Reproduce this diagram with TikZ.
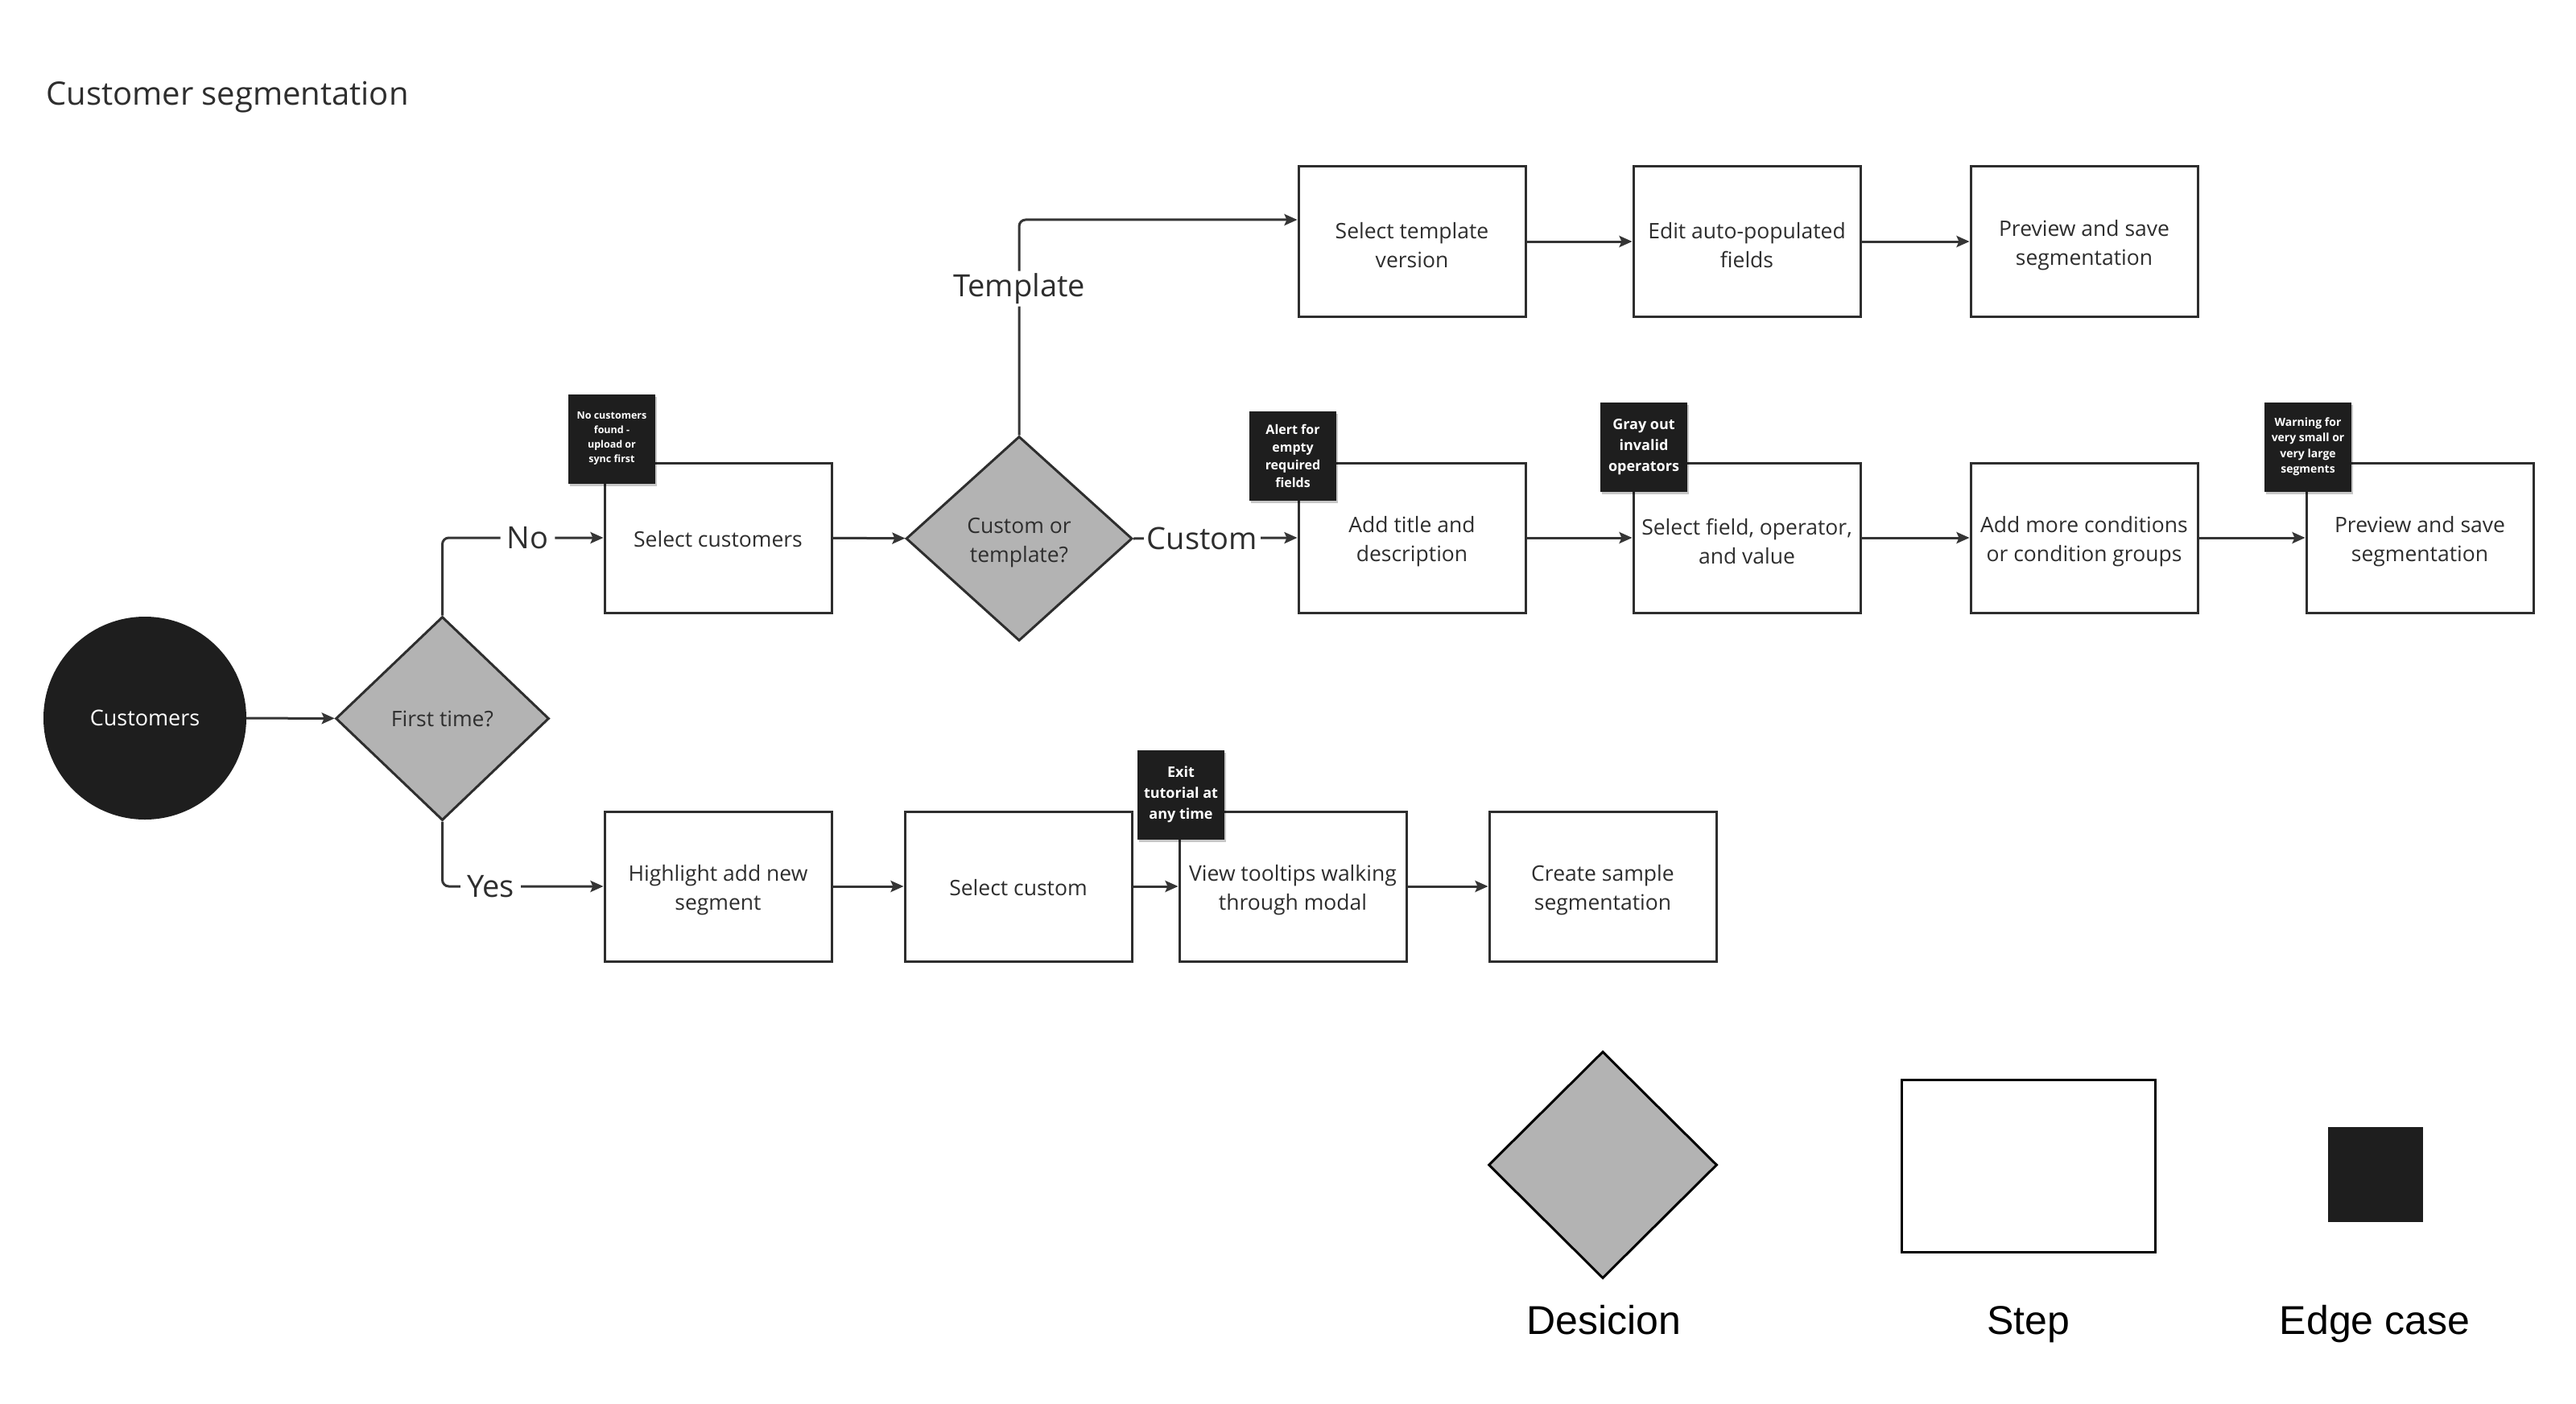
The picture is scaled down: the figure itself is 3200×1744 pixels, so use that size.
\documentclass[tikz,border=0pt]{standalone}
\usepackage{fontspec}
\setmainfont{Open Sans}
\newfontfamily\legendfont{Liberation Sans}
\usetikzlibrary{shapes.geometric,arrows.meta,shadows,calc}
\definecolor{ink}{HTML}{2E2E2E}
\definecolor{linec}{HTML}{353535}
\definecolor{dgray}{HTML}{B3B3B3}
\definecolor{sticky}{HTML}{1E1E1E}
\newcommand\tup{\rule{0pt}{29pt}}
\newcommand\oneup{\rule{0pt}{23.5pt}}
\begin{document}
\begin{tikzpicture}[x=1pt,y=-1pt,
  stepbox/.style={draw=ink, line width=3pt, fill=white, minimum width=282pt, minimum height=186pt,
    align=center, text=ink, font=\fontsize{26.5}{36.5}\selectfont, inner sep=0pt},
  decbox/.style={diamond, draw=ink, line width=3pt, fill=dgray, inner sep=0pt, align=center,
    text=ink, font=\fontsize{26.5}{36.5}\selectfont},
  note/.style={fill=sticky, text=white, align=center, minimum width=108pt, minimum height=111pt,
    inner sep=0pt, drop shadow={opacity=0.22, shadow xshift=2pt, shadow yshift=-3pt, fill=black}},
  conn/.style={draw=linec, line width=3pt, -{Stealth[length=16pt,width=14pt,inset=3pt]}},
  lab/.style={fill=white, text=ink, font=\fontsize{38}{46}\selectfont, inner xsep=8pt, inner ysep=3pt},
  leglab/.style={text=black, font=\legendfont\fontsize{50}{60}\selectfont, anchor=base},
]
\fill[white] (0,0) rectangle (3200,1744);
\useasboundingbox (0,0) rectangle (3200,1744);

% title
\node[anchor=base west, inner sep=0pt, text=ink, font=\fontsize{40}{48}\selectfont] (title) at (57,131) {Customer segmentation};

% start and decisions
\node[circle, fill=sticky, minimum size=252pt, inner sep=0pt, text=white, font=\fontsize{27}{33}\selectfont] (cust) at (180,892) {Customers};
\node[decbox, minimum width=265pt, minimum height=253pt] (ft) at (549.5,892.5) {First time?};
\node[decbox, minimum width=281pt, minimum height=254pt] (ct) at (1266,669) {\tup Custom or\\template?};

% step boxes
\node[stepbox] (sc) at (892,668) {\oneup Select customers};

\node[stepbox] (stv) at (1754,300) {\tup Select template\\version};
\node[stepbox] (eap) at (2170,300) {\tup Edit auto-populated\\fields};
\node[stepbox] (pst) at (2589,300) {\tup Preview and save\\segmentation};

\node[stepbox] (atd) at (1754,668) {\tup Add title and\\description};
\node[stepbox] (sfo) at (2170,668) {\tup Select field, operator,\\and value};
\node[stepbox] (amc) at (2589,668) {\tup Add more conditions\\or condition groups};
\node[stepbox] (psc) at (3006,668) {\tup Preview and save\\segmentation};

\node[stepbox] (han) at (892,1101) {\tup Highlight add new\\segment};
\node[stepbox] (scu) at (1265,1101) {\oneup Select custom};
\node[stepbox] (vtw) at (1606,1101) {\tup View tooltips walking\\through modal};
\node[stepbox] (css) at (1991,1101) {\tup Create sample\\segmentation};

% connectors
\draw[conn] (cust) -- (ft);
\draw[conn, rounded corners=8pt] (ft.north) |- node[lab, pos=0.765] {No} (sc.west);
\draw[conn, rounded corners=8pt] (ft.south) |- node[lab, pos=0.65] {Yes} (han.west);
\draw[conn] (sc) -- (ct);
\draw[conn, rounded corners=8pt] (ct.north) |- node[lab, pos=0.34] {Template} ([yshift=27pt]stv.west);
\draw[conn] (ct.east) -- node[lab, pos=0.42, inner xsep=4pt] {Custom} (atd.west);
\draw[conn] (stv) -- (eap);
\draw[conn] (eap) -- (pst);
\draw[conn] (atd) -- (sfo);
\draw[conn] (sfo) -- (amc);
\draw[conn] (amc) -- (psc);
\draw[conn] (han) -- (scu);
\draw[conn] (scu) -- (vtw);
\draw[conn] (vtw) -- (css);

% edge case notes
\node[note, font=\bfseries\fontsize{12.5}{18}\selectfont] (n1) at (760,545) {No customers\\found -\\upload or\\sync first};
\node[note, font=\bfseries\fontsize{16}{22}\selectfont] (n2) at (1606,566) {Alert for\\empty\\required\\fields};
\node[note, font=\bfseries\fontsize{18}{26}\selectfont] (n3) at (2042,555) {Gray out\\invalid\\operators};
\node[note, font=\bfseries\fontsize{14}{19.5}\selectfont] (n4) at (2867,555) {Warning for\\very small or\\very large\\segments};
\node[note, font=\bfseries\fontsize{18}{26}\selectfont] (n5) at (1467,987) {Exit\\tutorial at\\any time};

% legend
\node[diamond, draw=black, line width=3pt, fill=dgray, inner sep=0pt, minimum width=284pt, minimum height=282pt] (legd) at (1991,1447) {};
\node[draw=black, line width=3pt, fill=white, minimum width=315pt, minimum height=214pt, inner sep=0pt] (legs) at (2520,1448) {};
\node[fill=sticky, minimum size=118pt, inner sep=0pt] (lege) at (2951,1459) {};
\node[leglab] (legdl) at (1992,1657) {Desicion};
\node[leglab] (legsl) at (2520,1657) {Step};
\node[leglab] (legel) at (2950,1657) {Edge case};
\end{tikzpicture}
\end{document}
